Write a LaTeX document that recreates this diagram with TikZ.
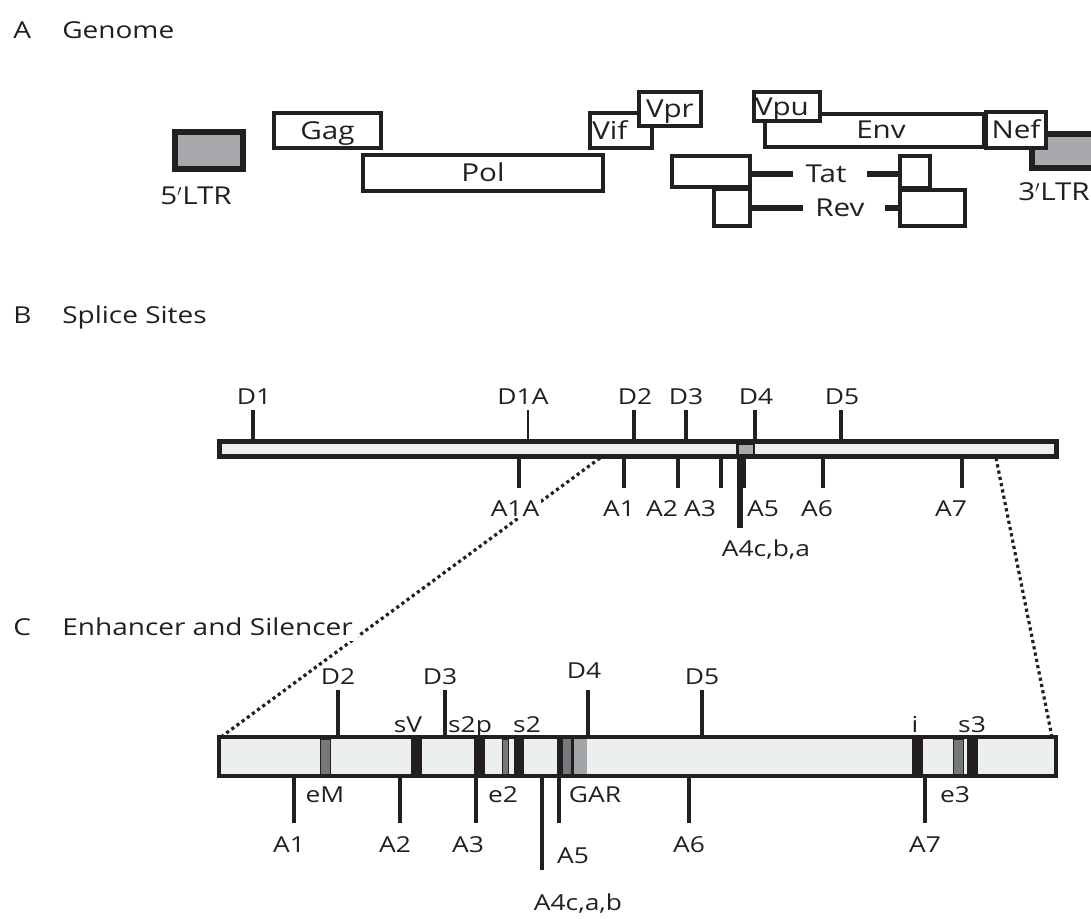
\documentclass[tikz,border=0pt]{standalone}
\usepackage{fontspec}
\setmainfont{Open Sans}[FakeStretch=1.2]
\usetikzlibrary{fit}
\definecolor{InkDark}{HTML}{231F20}
\definecolor{LtrGray}{HTML}{A7A9AC}
\definecolor{BarPale}{HTML}{EBEFED}
\definecolor{BandGray}{HTML}{77787B}
\definecolor{GarGray}{HTML}{A2A4A7}
\newcommand{\headfont}{\fontsize{17.5}{20}\selectfont}
\newcommand{\genefont}{\fontsize{18.5}{21}\selectfont}
\newcommand{\sitefont}{\fontsize{16.5}{19}\selectfont}

\begin{document}
\begin{tikzpicture}[
    x=0.75pt, y=-0.75pt,
    heading/.style={anchor=base west, inner sep=0pt, text=InkDark, font=\headfont},
    gene/.style={draw=InkDark, line width=3.4pt, fill=white, inner sep=0pt},
    ltr/.style={gene, line width=4pt, fill=LtrGray},
    genelabel/.style={inner sep=0pt, text=InkDark, font=\genefont,
      text height=13.2pt, text depth=0pt},
    link/.style={draw=InkDark, line width=4.5pt},
    genomebar/.style={draw=InkDark, fill=BarPale, inner sep=0pt},
    tick/.style={draw=InkDark, line width=3pt},
    site/.style={inner sep=1pt, text=InkDark, font=\sitefont,
      text height=11.8pt, text depth=0pt},
    band/.style={fill=InkDark},
    grayband/.style={fill=BandGray, draw=InkDark, line width=0.75pt},
    zoomline/.style={draw=InkDark, line width=2.4pt, dash pattern=on 2.4pt off 2.4pt}
  ]
  \useasboundingbox (0,0) rectangle (1091,918);

  % zoom guides from B down to C, drawn first so the bars sit on top
  \coordinate (zoomLtop) at (600,458);
  \coordinate (zoomRtop) at (996,458);
  \coordinate (zoomLbot) at (221,737);
  \coordinate (zoomRbot) at (1052,737);
  \draw[zoomline] (zoomLtop) -- (zoomLbot);
  \draw[zoomline] (zoomRtop) -- (zoomRbot);

  % headings
  \node[heading] (hA) at (13,38) {A};
  \node[heading] (hAtext) at (62,38) {Genome};
  \node[heading] (hB) at (13,323) {B};
  \node[heading] (hBtext) at (62,323) {Splice Sites};
  \node[heading] (hC) at (13,635) {C};
  \node[heading, fill=white, inner sep=4pt] (hCtext) at (56.7,635) {Enhancer and Silencer};

  % A: genome
  \node[ltr, fit={(175,132) (243,169)}] (ltr5) {};
  \node[genelabel] (ltr5lab) at (196,196) {5$'$LTR};
  \node[gene, fit={(274,113) (381,148)}] (gag) {};
  \node[genelabel] (gaglab) at (gag.center) {Gag};
  \node[gene, fit={(363,155) (603,191)}] (pol) {};
  \node[genelabel] (pollab) at (pol.center) {Pol};
  \node[gene, fit={(590,113) (652,148)}] (vif) {};
  \node[gene, fit={(639,92) (701,126)}] (vpr) {};
  \node[genelabel] (vprlab) at (vpr.center) {Vpr};
  \node[genelabel, anchor=west] (viflab) at (592,131) {Vif};
  \node[gene, fit={(765,114) (984,147)}] (env) {};
  \node[genelabel] (envlab) at (881,130) {Env};
  \node[gene, fit={(754,92) (820,121)}] (vpu) {};
  \node[genelabel] (vpulab) at (782,107) {Vpu};
  \node[ltr, fit={(1032,134) (1110,168)}] (ltr3) {};
  \node[gene, fit={(986,112) (1046,148)}] (nef) {};
  \node[genelabel] (neflab) at (nef.center) {Nef};
  \node[genelabel] (ltr3lab) at (1054,192) {3$'$LTR};

  \node[gene, fit={(672,156) (750,187)}] (tat1) {};
  \node[gene, fit={(900,156) (930,188)}] (tat2) {};
  \node[gene, fit={(714,189) (750,226)}] (rev1) {};
  \node[gene, fit={(900,190) (965,226)}] (rev2) {};
  \node[genelabel] (tat) at (826,174) {Tat};
  \node[genelabel] (rev) at (840,208) {Rev};
  \coordinate (tatA) at (793,174);
  \coordinate (tatB) at (867,174);
  \coordinate (revA) at (803,208);
  \coordinate (revB) at (885,208);
  \draw[link] (tat1.east |- tatA) -- (tatA);
  \draw[link] (tatB) -- (tat2.west |- tatB);
  \draw[link] (rev1.east |- revA) -- (revA);
  \draw[link] (revB) -- (rev2.west |- revB);

  % B: splice sites
  \node[genomebar, line width=3.75pt, fit={(219.5,441.8) (1056.5,456.8)}] (barB) {};
  \draw[fill=LtrGray, draw=InkDark, line width=2pt] (737.5,443.5) rectangle (754,455);
  \foreach \x/\lx/\t in {253/254/D1, 634/635/D2, 686/686/D3, 755/756/D4, 841/842/D5}{
    \draw[tick] (\x,410) -- (\x,441);
    \node[site] (b\t) at (\lx,397) {\t};
  }
  \draw[tick, line width=1.5pt] (528,410) -- (528,441);
  \node[site] (bD1A) at (523,397) {D1A};
  \foreach \x/\lx/\t in {519/515/A1A, 624/619/A1, 678/662/A2, 721/700/A3, 823/817/A6, 962/951/A7}{
    \draw[tick] (\x,457) -- (\x,488);
    \node[site, fill=white] (b\t) at (\lx,509) {\t};
  }
  \draw[tick, line width=4.5pt] (739.5,457) -- (739.5,528);
  \draw[tick] (743.5,457) -- (743.5,488);
  \node[site] (bA5) at (763,509) {A5};
  \node[site] (bA4) at (766,549) {A4c,b,a};

  % C: enhancer and silencer
  \node[genomebar, line width=3pt, fit={(219,737) (1056,776)}] (barC) {};
  \foreach \a/\b in {411/422, 474/485, 514/524, 912/923, 967/978}
    \fill[band] (\a,737) rectangle (\b,776);
  \foreach \a/\b in {320/330, 502/508, 953/963}
    \draw[grayband] (\a,739) rectangle (\b,774);
  \fill[InkDark] (557,737) rectangle (563,776);
  \fill[BandGray] (563,739) rectangle (571,774);
  \fill[InkDark] (571,737) rectangle (573.5,776);
  \fill[GarGray] (573.5,739) rectangle (587,774);

  \foreach \x/\lx/\ly/\t in {338/338/677/D2, 445/440/677/D3, 588/584/671/D4, 702/702/677/D5}{
    \draw[tick] (\x,690) -- (\x,737);
    \node[site] (c\t) at (\lx,\ly) {\t};
  }
  \foreach \lx/\t in {408/sV, 470/s2p, 527/s2, 915/i, 972/s3}
    \node[site] (c\t) at (\lx,725) {\t};
  \foreach \x/\lx/\t in {294/289/A1, 400/395/A2, 476/468/A3, 689/689/A6, 925/925/A7}{
    \draw[tick] (\x,776) -- (\x,823);
    \node[site] (c\t) at (\lx,845) {\t};
  }
  \draw[tick] (559,776) -- (559,823);
  \node[site] (cA5) at (573,856) {A5};
  \draw[tick] (542,776) -- (542,870);
  \node[site] (cA4) at (578,903) {A4c,a,b};
  \foreach \lx/\t in {325/eM, 503/e2, 595/GAR, 955/e3}
    \node[site] (c\t) at (\lx,795) {\t};
\end{tikzpicture}
\end{document}
